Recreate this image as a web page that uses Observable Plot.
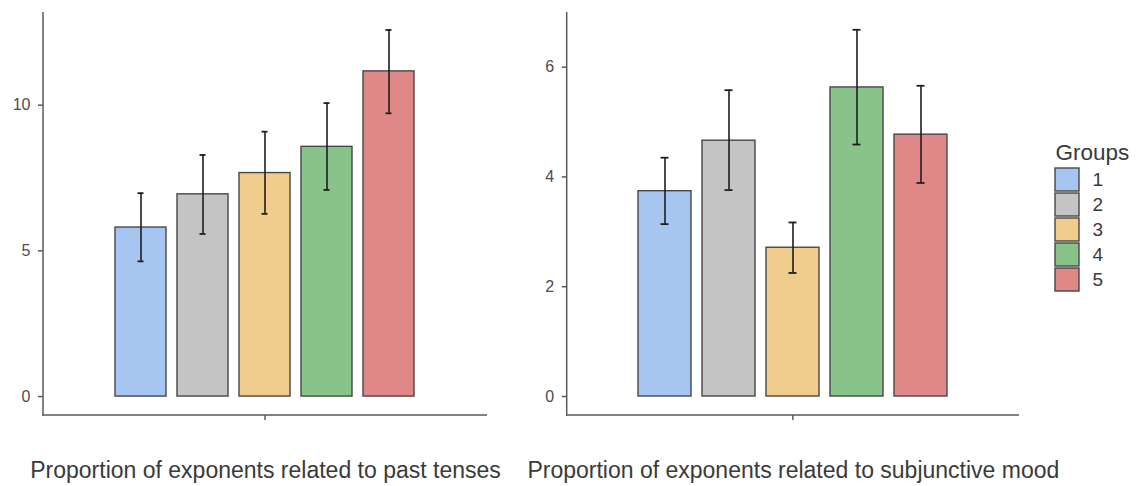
<!DOCTYPE html>
<html>
<head>
<meta charset="utf-8">
<script src="https://cdn.jsdelivr.net/npm/d3@7"></script>
<script src="https://cdn.jsdelivr.net/npm/@observablehq/plot@0.6"></script>
<style>
  html, body { margin: 0; padding: 0; background: #fff; }
  #chart { position: relative; width: 1137px; height: 486px; overflow: hidden; font-family: "Liberation Sans", Arial, sans-serif; }
  #chart > div, #chart > svg { position: absolute; }
  svg { overflow: visible; }
</style>
</head>
<body>
<div id="chart"></div>
<script>
const groups = ["1", "2", "3", "4", "5"];
const groupColors = ["#a6c5f1", "#c4c4c4", "#f0cd8c", "#88c48a", "#e08888"];

const pastMeans = [5.80, 6.94, 7.67, 8.57, 11.16];
const pastLow   = [4.64, 5.58, 6.27, 7.09, 9.72];
const pastHigh  = [6.98, 8.29, 9.09, 10.07, 12.58];
const pastTicks = [0, 5, 10];
const pastLabel = "Proportion of exponents related to past tenses";

const subjMeans = [3.74, 4.66, 2.71, 5.63, 4.77];
const subjLow   = [3.14, 3.76, 2.25, 4.59, 3.89];
const subjHigh  = [4.35, 5.58, 3.17, 6.68, 5.66];
const subjTicks = [0, 2, 4, 6];
const subjLabel = "Proportion of exponents related to subjunctive mood";

const legendTitle = "Groups";

const axisColor = "#5a5a5a";
const textColor = "#4d4d4d";

function axisLines(index, scales, values, dims) {
  const g = d3.create("svg:g");
  const x0 = dims.marginLeft, x1 = dims.width - dims.marginRight;
  const y0 = dims.marginTop, y1 = dims.height - dims.marginBottom;
  g.append("line").attr("x1", x0).attr("x2", x0).attr("y1", y0).attr("y2", y1 + 0.75)
    .attr("stroke", axisColor).attr("stroke-width", 1.5);
  g.append("line").attr("x1", x0 - 0.75).attr("x2", x1).attr("y1", y1).attr("y2", y1)
    .attr("stroke", axisColor).attr("stroke-width", 1.5);
  const cx = (x0 + x1) / 2;
  g.append("line").attr("x1", cx).attr("x2", cx).attr("y1", y1).attr("y2", y1 + 5)
    .attr("stroke", axisColor).attr("stroke-width", 1.5);
  return g.node();
}

function panel({means, lows, highs, ticks, yDomain, label, width, marginLeft, marginRight, paddingOuter}) {
  const data = groups.map((g, i) => ({g, m: means[i], lo: lows[i], hi: highs[i]}));
  return Plot.plot({
    width, height: 486,
    marginTop: 12, marginBottom: 71, marginLeft, marginRight,
    x: {domain: groups, paddingInner: 0.17, paddingOuter, axis: null},
    y: {domain: yDomain, axis: null},
    color: {domain: groups, range: groupColors},
    style: {fontFamily: "'Liberation Sans', Arial, sans-serif", fontSize: "16px", color: textColor, background: "transparent"},
    marks: [
      Plot.barY(data, {x: "g", y: "m", fill: "g", stroke: "#474747", strokeWidth: 1.4}),
      Plot.ruleX(data, {x: "g", y1: "lo", y2: "hi", stroke: "#1e1e1e", strokeWidth: 1.6}),
      Plot.tickY(data, {x: "g", y: "lo", stroke: "#1e1e1e", strokeWidth: 1.8, insetLeft: 22.5, insetRight: 22.5}),
      Plot.tickY(data, {x: "g", y: "hi", stroke: "#1e1e1e", strokeWidth: 1.8, insetLeft: 22.5, insetRight: 22.5}),
      Plot.axisY({ticks, tickSize: 5, tickPadding: 8, fontSize: 16, stroke: axisColor, strokeWidth: 1.5, fill: textColor, label: null}),
      axisLines,
      Plot.text([label], {frameAnchor: "bottom", dy: 62, fontSize: 23, fill: "#3a3a3a"})
    ]
  });
}

const chart = document.getElementById("chart");

const left = panel({
  means: pastMeans, lows: pastLow, highs: pastHigh, ticks: pastTicks,
  yDomain: [-0.65, 13.18], label: pastLabel,
  width: 500, marginLeft: 43, marginRight: 13, paddingOuter: 1.137
});
left.style.left = "0px"; left.style.top = "0px";
chart.appendChild(left);

const right = panel({
  means: subjMeans, lows: subjLow, highs: subjHigh, ticks: subjTicks,
  yDomain: [-0.346, 6.995], label: subjLabel,
  width: 530, marginLeft: 66.7, marginRight: 11, paddingOuter: 1.11
});
right.style.left = "500px"; right.style.top = "0px";
chart.appendChild(right);

const legend = Plot.plot({
  width: 107, height: 175,
  marginTop: 42, marginBottom: 8, marginLeft: 25, marginRight: 0,
  x: {domain: ["s"], range: [25, 49], padding: 0, axis: null},
  y: {domain: groups, paddingInner: 0.075, paddingOuter: 0.0375, axis: null},
  color: {domain: groups, range: groupColors},
  style: {fontFamily: "'Liberation Sans', Arial, sans-serif", color: textColor, background: "transparent"},
  marks: [
    Plot.cell(groups, {x: () => "s", y: d => d, fill: d => d, stroke: "#474747", strokeWidth: 1.4}),
    Plot.text(groups, {x: () => "s", y: d => d, text: d => d, dx: 25, textAnchor: "start", fontSize: 19, fill: "#3a3a3a"}),
    Plot.text([legendTitle], {frameAnchor: "top-left", dy: -23, textAnchor: "start", fontSize: 22.5, fill: "#3a3a3a"})
  ]
});
legend.style.left = "1030px"; legend.style.top = "125px";
chart.appendChild(legend);
</script>
</body>
</html>
